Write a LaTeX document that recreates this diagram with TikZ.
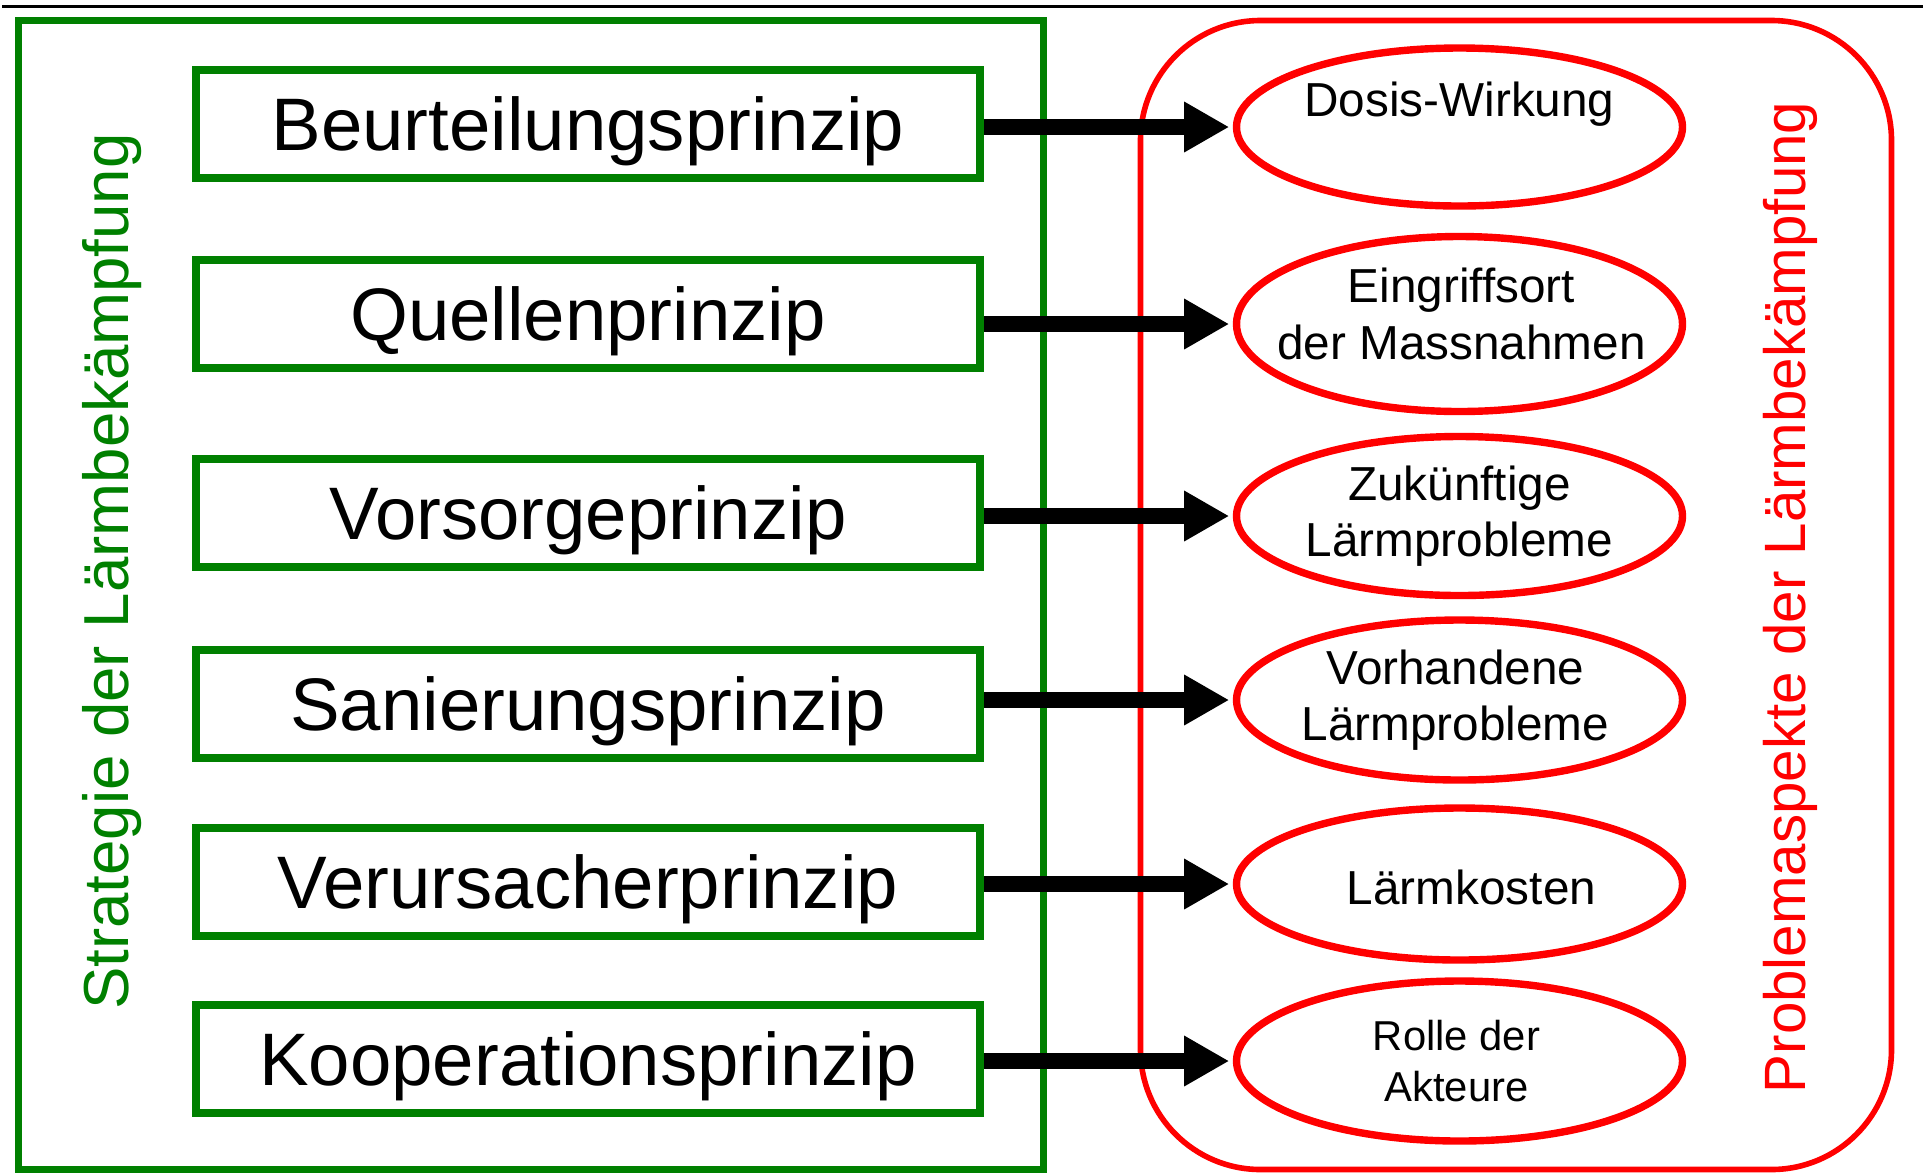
\documentclass[tikz,border=0pt]{standalone}
\usepackage{fontspec}
\setmainfont{Liberation Sans}
\usetikzlibrary{shapes.geometric, arrows.meta}
\definecolor{gruen}{RGB}{0,128,0}
\definecolor{rot}{RGB}{255,0,0}

\begin{document}
\begin{tikzpicture}
    [x=0.5pt, y=-0.5pt,
      prinzip/.style={draw=gruen, line width=4pt, inner sep=0pt,
        minimum width=392pt, minimum height=54pt,
        font=\fontsize{37.2pt}{44pt}\selectfont, text height=26.6pt, text depth=0pt},
      aspekt/.style={draw=rot, ellipse, line width=3.7pt, inner sep=0pt,
        minimum width=223pt},
      every label/.style={font=\fontsize{23.85pt}{28.3pt}\selectfont,
        align=center, inner sep=0pt},
      pfeil/.style={line width=7.6pt, -{Triangle[length=22.5pt, width=23.7pt]},
        shorten >=1.8pt}]
    \useasboundingbox (0,0) rectangle (1927,1175);

    \draw[line width=1.5pt] (2,6.5) -- (1923,6.5);

    % the two frames
    \draw[gruen, line width=3.2pt] (18.5,20.5) rectangle (1043.5,1169.5);
    \draw[rot, line width=2.8pt, rounded corners=60pt] (1140.5,20.5) rectangle (1891.5,1169.5);

    \node[gruen, rotate=90, anchor=base, font=\fontsize{31.8pt}{38pt}\selectfont]
      (strategie) at (128,571.5) {Strategie der Lärmbekämpfung};
    \node[rot, rotate=90, anchor=base, font=\fontsize{29.15pt}{35pt}\selectfont]
      (probleme) at (1805,597.3) {Problemaspekte der Lärmbekämpfung};

    \foreach \i/\y/\wort in {1/124/Beurteilungsprinzip, 2/313.5/Quellenprinzip,
      3/512.5/Vorsorgeprinzip, 4/704/Sanierungsprinzip,
      5/881.5/Verursacherprinzip, 6/1059/Kooperationsprinzip}
    {
      \node[prinzip] (p\i) at (588,\y) {\wort};
    }

    \node[aspekt, minimum height=79pt,
      label={[yshift=11.5pt]center:Dosis-Wirkung}] (a1) at (1459.5,127) {};
    \node[aspekt, minimum height=87.5pt,
      label={[yshift=5pt, xshift=1pt]center:Eingriffsort\\der Massnahmen}] (a2) at (1459.5,324) {};
    \node[aspekt, minimum height=79.5pt,
      label={center:Zukünftige\\Lärmprobleme}] (a3) at (1459.5,516) {};
    \node[aspekt, minimum height=80pt,
      label={[xshift=-2pt]center:Vorhandene\\Lärmprobleme}] (a4) at (1459.5,700) {};
    \node[aspekt, minimum height=76pt,
      label={[xshift=6pt, yshift=-1.5pt]center:Lärmkosten}] (a5) at (1459.5,884) {};
    \node[aspekt, minimum height=80pt,
      label={[xshift=-1.5pt, font=\fontsize{20.9pt}{25.5pt}\selectfont]center:Rolle der\\Akteure}] (a6) at (1459.5,1061) {};

    \foreach \i in {1,...,6}
    {
      \draw[pfeil] (p\i.east |- a\i) -- (a\i.west);
    }
\end{tikzpicture}
\end{document}
